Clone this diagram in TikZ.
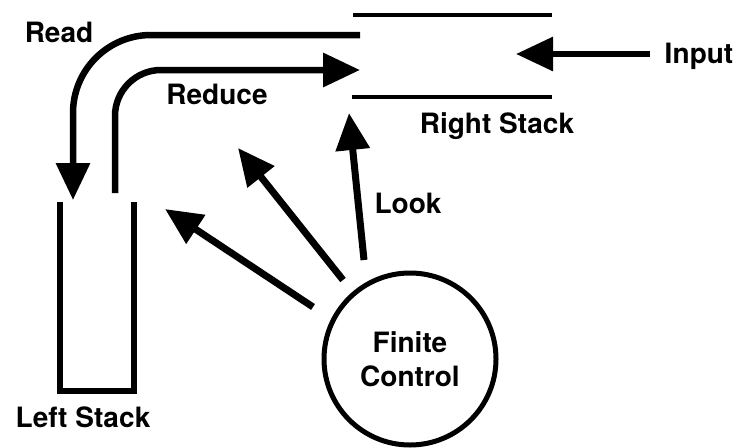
\documentclass[tikz,border=0pt]{standalone}
\usepackage{fontspec}
\setsansfont{TeX Gyre Heros}
\usetikzlibrary{arrows.meta}
\begin{document}
\begin{tikzpicture}[x=1pt,y=-1pt,
  lbl/.style={font=\sffamily\bfseries\fontsize{28}{34}\selectfont, inner sep=0pt, anchor=base},
  tip/.style={-{Triangle[length=37pt,width=33pt]}},
  flow/.style={tip, line width=6.5pt},
  ctrl/.style={tip, line width=7pt},
  stackline/.style={line width=4.5pt},
  fc/.style={circle, draw, line width=5pt, minimum size=172pt, inner sep=0pt,
    align=center, font=\sffamily\bfseries\fontsize{28}{34}\selectfont}]
\useasboundingbox (0,0) rectangle (738,447);

% right stack
\coordinate (rsTopL) at (353,15);
\coordinate (rsTopR) at (552,15);
\coordinate (rsBotL) at (352,97);
\coordinate (rsBotR) at (552,97);
\draw[stackline] (rsTopL) -- (rsTopR);
\draw[stackline] (rsBotL) -- (rsBotR);
\node[lbl] (rslabel) at (497,133) {Right Stack};

% left stack
\coordinate (lsA) at (60,202);
\coordinate (lsB) at (60,391);
\coordinate (lsC) at (134,391);
\coordinate (lsD) at (134,202);
\draw[line width=6pt, miter limit=4] (lsA) -- (lsB) -- (lsC) -- (lsD);
\node[lbl] (lslabel) at (83,427) {Left Stack};

% input
\node[lbl] (input) at (699,63) {Input};
\coordinate (inTail) at (650,54);
\coordinate (inTip) at (516,54);
\draw[tip, line width=6pt] (inTail) -- (inTip);

% read and reduce
\coordinate (readS) at (360,35);
\coordinate (readE) at (73,200);
\draw[flow, rounded corners=78pt] (readS) -| (readE);
\node[lbl] (read) at (59,42) {Read};

\coordinate (redS) at (115,193);
\coordinate (redE) at (360,70);
\draw[flow, rounded corners=46pt] (redS) |- (redE);
\node[lbl] (reduce) at (217,104) {Reduce};

% finite control
\node[fc] (control) at (410,359) {Finite\\Control};

\coordinate (t1) at (313,307);
\coordinate (h1) at (165,209);
\coordinate (t2) at (343,280);
\coordinate (h2) at (238,148);
\coordinate (t3) at (364,260);
\coordinate (h3) at (349,113);
\draw[ctrl] (t1) -- (h1);
\draw[ctrl] (t2) -- (h2);
\draw[ctrl] (t3) -- (h3);
\node[lbl] (look) at (408,213) {Look};
\end{tikzpicture}
\end{document}
